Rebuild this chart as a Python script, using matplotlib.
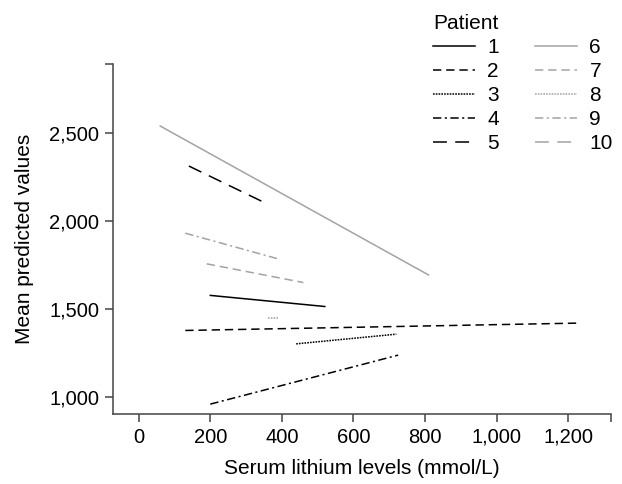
import matplotlib
matplotlib.use("Agg")
import matplotlib.pyplot as plt
from matplotlib.ticker import FuncFormatter

plt.rcParams['font.family'] = ['Liberation Sans', 'DejaVu Sans']
plt.rcParams['lines.scale_dashes'] = False

# start/end of each patient's fitted line (serum lithium, predicted value)
# patient 10 has no visible line in the chart, only a legend entry
patients = ['1', '2', '3', '4', '5', '6', '7', '8', '9', '10']
x_start = [200, 130, 440, 200, 140, 60, 190, 360, 130, None]
x_end = [520, 1235, 720, 725, 350, 810, 460, 390, 390, None]
y_start = [1577, 1378, 1302, 960, 2311, 2538, 1756, 1451, 1930, None]
y_end = [1514, 1420, 1357, 1238, 2105, 1693, 1650, 1451, 1784, None]

black = '#000000'
grey = '#a3a3a3'
styles = [
    (black, '-'),
    (black, (0, (6, 3.5))),
    (black, (0, (1.2, 0.8))),
    (black, (0, (6, 2.5, 1.5, 2.5))),
    (black, (0, (10, 6))),
    (grey, '-'),
    (grey, (0, (6, 3.5))),
    (grey, (0, (1.2, 0.8))),
    (grey, (0, (6, 2.5, 1.5, 2.5))),
    (grey, (0, (10, 6))),
]

fig = plt.figure(figsize=(6.22, 4.84), dpi=100)
ax = fig.add_axes([113 / 622, 1 - 414 / 484, 498 / 622, 350 / 484])

for i, p in enumerate(patients):
    col, ls = styles[i]
    if x_start[i] is None:
        xs, ys = [], []
    else:
        xs, ys = [x_start[i], x_end[i]], [y_start[i], y_end[i]]
    ax.plot(xs, ys, color=col, linestyle=ls, linewidth=1.1, label=p)

xmin, xmax = -72, 1320
ymin, ymax = 904, 2890
ax.set_xlim(xmin, xmax)
ax.set_ylim(ymin, ymax)
ax.set_xticks([0, 200, 400, 600, 800, 1000, 1200])
ax.set_yticks([1000, 1500, 2000, 2500])
# end caps on the axis lines
ax.set_xticks([xmax], minor=True)
ax.set_yticks([ymax], minor=True)
fmt = FuncFormatter(lambda v, pos: '{:,.0f}'.format(v))
ax.xaxis.set_major_formatter(fmt)
ax.yaxis.set_major_formatter(fmt)

for s in ['top', 'right']:
    ax.spines[s].set_visible(False)
for s in ['left', 'bottom']:
    ax.spines[s].set_color('#444444')
    ax.spines[s].set_linewidth(1.1)
ax.tick_params(which='both', colors='#444444', labelcolor='black',
               labelsize=14.5, length=6, width=1.1)
ax.tick_params(axis='x', pad=4)
ax.tick_params(axis='y', pad=4)

ax.set_xlabel('Serum lithium levels (mmol/L)', fontsize=15, labelpad=9)
ax.set_ylabel('Mean predicted values', fontsize=15, labelpad=11)

leg = ax.legend(ncol=2, title='Patient', frameon=False, fontsize=15,
                title_fontsize=15, loc='upper left',
                bbox_to_anchor=(433 / 622, 1 - 14 / 484),
                bbox_transform=fig.transFigure, borderpad=0,
                borderaxespad=0, handlelength=2.0, handletextpad=0.6,
                columnspacing=1.75, labelspacing=0.24, alignment='left')

fig.savefig('out.png', dpi=100)
